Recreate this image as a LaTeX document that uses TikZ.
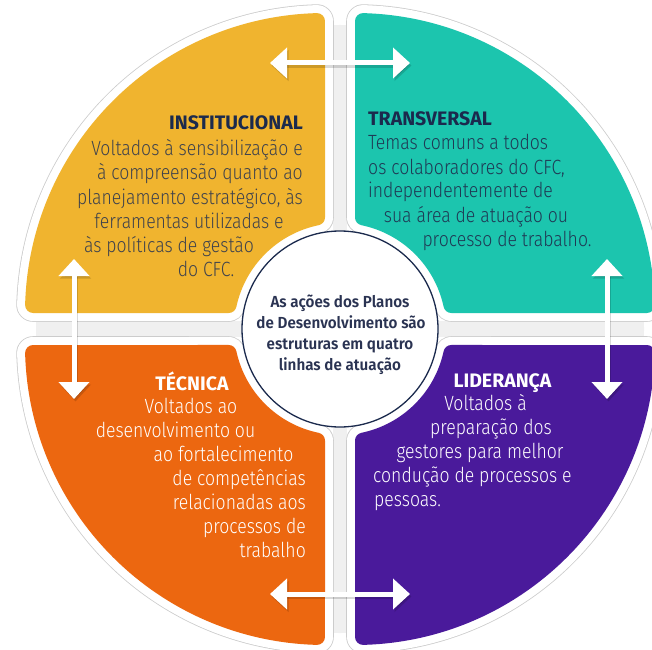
\documentclass[tikz,border=0pt]{standalone}
\usepackage{fontspec}
\setmainfont{Fira Sans}
\newfontfamily\bodyfont{Fira Sans Light}[FakeStretch=0.855]
\newfontfamily\titlefont{Fira Sans Bold}
\newfontfamily\centerfont{Fira Sans SemiBold}[FakeStretch=0.95]
\usetikzlibrary{arrows.meta}
\definecolor{qyellow}{HTML}{F0B42F}
\definecolor{qteal}{HTML}{1CC5AE}
\definecolor{qorange}{HTML}{EC6710}
\definecolor{qpurple}{HTML}{4A1A9B}
\definecolor{navy}{HTML}{1B2A4D}
\definecolor{ygray}{HTML}{40434C}
\definecolor{tnavy}{HTML}{1F3A55}
\definecolor{cnavy}{HTML}{2A3352}
\newcommand\quadshape[1]{\path[#1] (-306.89,24) arc[start angle=178.43,end angle=91.57,radius=292] -- (-23,111.65) arc[start angle=101.65,end angle=167.85,radius=114] -- cycle;}
\newcommand\onequad[3]{%
  \begin{scope}[shift={(340,320)},xscale=#1,yscale=#2]
    \quadshape{draw=black!20,line width=33.6pt,line join=round}
    \quadshape{draw=white,fill=white,line width=32pt,line join=round}
    \quadshape{draw=#3,fill=#3,line width=16pt,line join=round}
  \end{scope}}
\begin{document}
\begin{tikzpicture}[x=1pt,y=1pt,
  arrowline/.style={draw=white,line width=5pt,{Triangle[length=17pt,width=30pt]}-{Triangle[length=17pt,width=30pt]}},
  arrowshadow/.style={draw=black,opacity=0.15,line width=5pt,{Triangle[length=17pt,width=30pt]}-{Triangle[length=17pt,width=30pt]}},
  title/.style={font=\titlefont\fontsize{19.5}{22}\selectfont,inner sep=0pt},
  body/.style={font=\bodyfont\fontsize{20.6}{24}\selectfont,inner sep=0pt},
  ctext/.style={font=\centerfont\fontsize{16}{21}\selectfont,inner sep=0pt,text=cnavy,anchor=base}]
\useasboundingbox (0,0) rectangle (652,649);
\fill[white] (0,0) rectangle (652,649);
% gaps
\begin{scope}[shift={(340,320)}]
  \clip (0,0) circle[radius=304];
  \fill[black!6] (-7,-330) rectangle (7,330);
  \fill[black!6] (-330,-8) rectangle (330,8);
\end{scope}
\onequad{1}{1}{qyellow}
\onequad{-1}{1}{qteal}
\onequad{1}{-1}{qorange}
\onequad{-1}{-1}{qpurple}
% center
\node[circle,draw=navy,line width=1.3pt,fill=white,minimum size=196pt,inner sep=0pt] (center) at (340,320) {};
\node[ctext] (c1) at (340,342) {As ações dos Planos};
\node[ctext] (c2) at (341,321) {de Desenvolvimento são};
\node[ctext] (c3) at (340,300) {estruturas em quatro};
\node[ctext] (c4) at (340,279) {linhas de atuação};
% arrows
\coordinate (tl) at (270,586); \coordinate (tr) at (410,586);
\coordinate (bl) at (270,55);  \coordinate (br) at (410,55);
\coordinate (lt) at (74,390);  \coordinate (lb) at (74,250);
\coordinate (rt) at (607,390); \coordinate (rb) at (607,250);
\foreach \a/\b in {tl/tr,bl/br,lt/lb,rt/rb}{
  \draw[arrowshadow] ([shift={(1.5,-2.5)}]\a) -- ([shift={(1.5,-2.5)}]\b);
  \draw[arrowline] (\a) -- (\b);
}
% institucional
\node[title,text=navy,anchor=base east] (ytitle) at (303,519) {INSTITUCIONAL};
\begin{scope}[every node/.style={body,text=ygray}]
\node[anchor=base east] (y1) at (303,493) {Voltados à sensibilização e};
\node[anchor=base east] (y2) at (303,469) {à compreensão quanto ao};
\node[anchor=base east] (y3) at (303,445) {planejamento estratégico, às};
\node[anchor=base] (y4) at (189,421) {ferramentas utilizadas e};
\node[anchor=base] (y5) at (169,397) {às políticas de gestão};
\node[anchor=base] (y6) at (206,373) {do CFC.};
\end{scope}
% transversal
\node[title,text=navy,anchor=base west] (ttitle) at (368,523) {TRANSVERSAL};
\begin{scope}[every node/.style={body,text=tnavy}]
\node[anchor=base west] (t1) at (368,499) {Temas comuns a todos};
\node[anchor=base west] (t2) at (368,475) {os colaboradores do CFC,};
\node[anchor=base west] (t3) at (368,451) {independentemente de};
\node[anchor=base] (t4) at (476,427) {sua área de atuação ou};
\node[anchor=base] (t5) at (507,403) {processo de trabalho.};
\end{scope}
% tecnica
\node[title,text=white,anchor=base] (otitle) at (192,259) {TÉCNICA};
\begin{scope}[every node/.style={body,text=white}]
\node[anchor=base] (o1) at (191,236) {Voltados ao};
\node[anchor=base] (o2) at (175.5,212) {desenvolvimento ou};
\node[anchor=base] (o3) at (223.5,188) {ao fortalecimento};
\node[anchor=base east] (o4) at (306,164) {de competências};
\node[anchor=base east] (o5) at (306,140) {relacionadas aos};
\node[anchor=base east] (o6) at (306,116) {processos de};
\node[anchor=base east] (o7) at (306,92) {trabalho};
\end{scope}
% lideranca
\node[title,text=white,anchor=base] (ptitle) at (502.5,262) {LIDERANÇA};
\begin{scope}[every node/.style={body,text=white}]
\node[anchor=base] (p1) at (485.5,239) {Voltados à};
\node[anchor=base] (p2) at (491,215) {preparação dos};
\node[anchor=base] (p3) at (480,191) {gestores para melhor};
\node[anchor=base west] (p4) at (373,167) {condução de processos e};
\node[anchor=base west] (p5) at (374,143) {pessoas.};
\end{scope}
\end{tikzpicture}
\end{document}
